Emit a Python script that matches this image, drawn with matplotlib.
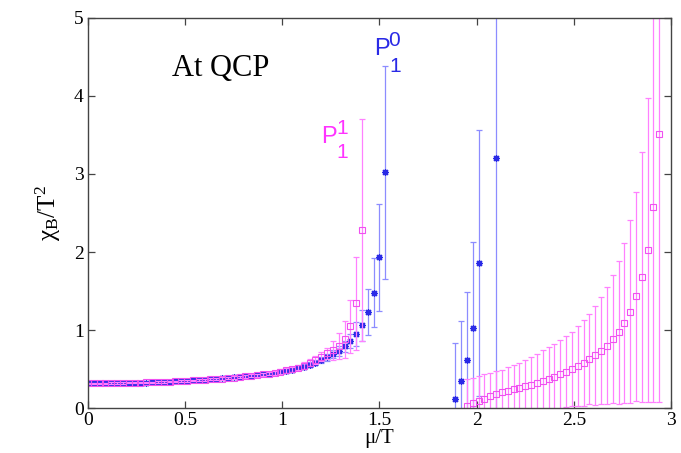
import matplotlib
matplotlib.use('Agg')
import matplotlib.pyplot as plt

# P1^0 (blue), low mu/T branch
mu_b0 = [0.00, 0.03, 0.06, 0.09, 0.12, 0.15, 0.18, 0.21, 0.24, 0.27, 0.30,
         0.33, 0.36, 0.39, 0.42, 0.45, 0.48, 0.51, 0.54, 0.57, 0.60,
         0.63, 0.66, 0.69, 0.72, 0.75, 0.78, 0.81, 0.84, 0.87, 0.90,
         0.93, 0.96, 0.99, 1.02, 1.05, 1.08, 1.11, 1.14, 1.17, 1.20,
         1.23, 1.26, 1.29, 1.32, 1.35, 1.38, 1.41, 1.44, 1.47, 1.50, 1.53]
chi_b0 = [0.317, 0.317, 0.318, 0.318, 0.319, 0.320, 0.321, 0.322, 0.323, 0.325, 0.327,
          0.331, 0.333, 0.336, 0.339, 0.342, 0.346, 0.350, 0.354, 0.358, 0.363,
          0.368, 0.373, 0.379, 0.385, 0.392, 0.399, 0.406, 0.413, 0.421, 0.430,
          0.440, 0.451, 0.463, 0.477, 0.493, 0.511, 0.532, 0.556, 0.583, 0.615,
          0.650, 0.690, 0.730, 0.790, 0.860, 0.950, 1.060, 1.230, 1.480, 1.930, 3.020]
err_b0 = [0.006] * 11 + \
         [0.007, 0.007, 0.007, 0.008, 0.008, 0.008, 0.009, 0.009, 0.010, 0.010,
          0.011, 0.011, 0.012, 0.012, 0.013, 0.014, 0.015, 0.016, 0.017, 0.018,
          0.019, 0.021, 0.022, 0.024, 0.026, 0.028, 0.030, 0.033, 0.036, 0.040,
          0.045, 0.052, 0.060, 0.075, 0.095, 0.15, 0.20, 0.30, 0.44, 0.68, 1.37]

# P1^0 (blue), high mu/T branch
mu_b1 = [1.89, 1.92, 1.95, 1.98, 2.01, 2.10]
chi_b1 = [0.115, 0.34, 0.61, 1.02, 1.86, 3.21]
err_b1 = [0.72, 0.78, 0.88, 1.11, 1.70, 3.6]

# P1^1 (magenta), low mu/T branch
mu_p0 = [0.00, 0.03, 0.06, 0.09, 0.12, 0.15, 0.18, 0.21, 0.24, 0.27, 0.30,
         0.33, 0.36, 0.39, 0.42, 0.45, 0.48, 0.51, 0.54, 0.57, 0.60,
         0.63, 0.66, 0.69, 0.72, 0.75, 0.78, 0.81, 0.84, 0.87, 0.90,
         0.93, 0.96, 0.99, 1.02, 1.05, 1.08, 1.11, 1.14, 1.17, 1.20,
         1.23, 1.26, 1.29, 1.32, 1.35, 1.38, 1.41]
chi_p0 = [0.318, 0.318, 0.319, 0.319, 0.320, 0.321, 0.322, 0.323, 0.324, 0.326, 0.328,
          0.330, 0.332, 0.335, 0.338, 0.341, 0.345, 0.349, 0.353, 0.357, 0.362,
          0.367, 0.372, 0.378, 0.384, 0.391, 0.398, 0.405, 0.413, 0.421, 0.430,
          0.441, 0.453, 0.466, 0.481, 0.498, 0.518, 0.545, 0.578, 0.615, 0.660,
          0.700, 0.740, 0.795, 0.880, 1.050, 1.340, 2.280]
err_p0 = [0.008] * 11 + \
         [0.009, 0.009, 0.009, 0.010, 0.010, 0.010, 0.011, 0.011, 0.012, 0.012,
          0.013, 0.014, 0.014, 0.015, 0.016, 0.017, 0.018, 0.019, 0.021, 0.022,
          0.024, 0.026, 0.028, 0.030, 0.033, 0.036, 0.040, 0.045, 0.050, 0.058,
          0.075, 0.12, 0.17, 0.24, 0.34, 0.59, 1.42]

# P1^1 (magenta), high mu/T branch
mu_p1 = [1.95, 1.98, 2.01, 2.04, 2.07, 2.10, 2.13, 2.16, 2.19, 2.22, 2.25, 2.28,
         2.31, 2.34, 2.37, 2.40, 2.43, 2.46, 2.49, 2.52, 2.55, 2.58, 2.61, 2.64,
         2.67, 2.70, 2.73, 2.76, 2.79, 2.82, 2.85, 2.88, 2.91, 2.94]
chi_p1 = [0.03, 0.06, 0.09, 0.12, 0.15, 0.18, 0.20, 0.22, 0.24, 0.26, 0.28, 0.30,
          0.325, 0.35, 0.376, 0.40, 0.43, 0.465, 0.50, 0.54, 0.58, 0.63, 0.675, 0.735,
          0.80, 0.88, 0.97, 1.09, 1.235, 1.43, 1.68, 2.03, 2.58, 3.51]
err_p1 = [0.34, 0.33, 0.32, 0.31, 0.30, 0.29, 0.29, 0.30, 0.31, 0.32, 0.335, 0.35,
          0.365, 0.39, 0.404, 0.42, 0.44, 0.455, 0.48, 0.51, 0.55, 0.58, 0.635, 0.685,
          0.75, 0.82, 0.92, 1.03, 1.175, 1.34, 1.60, 1.95, 2.50, 3.43]

blue_line = '#8c8cff'
blue_mark = '#2a2ae6'
pink_line = '#ff80ff'
pink_mark = '#f050f0'

plt.rcParams['font.family'] = ['Liberation Serif', 'DejaVu Serif']
plt.rcParams['mathtext.fontset'] = 'custom'
plt.rcParams['mathtext.rm'] = 'Liberation Serif'
plt.rcParams['mathtext.it'] = 'Liberation Serif:italic'

fig = plt.figure(figsize=(6.81, 4.53), dpi=100)
ax = fig.add_axes([0.1292, 0.0993, 0.8561, 0.8610])

blue_style = dict(fmt='none', ecolor=blue_line, elinewidth=0.9, capsize=2.5, capthick=0.9)
pink_style = dict(fmt='none', ecolor=pink_line, elinewidth=0.9, capsize=2.5, capthick=0.9)

for mu, chi, err in [(mu_b0, chi_b0, err_b0), (mu_b1, chi_b1, err_b1)]:
    ax.errorbar(mu, chi, yerr=err, **blue_style)
    ax.plot(mu, chi, ls='none', marker=(8, 2, 0), ms=5, mew=0.9, color=blue_mark)

for mu, chi, err in [(mu_p0, chi_p0, err_p0), (mu_p1, chi_p1, err_p1)]:
    ax.errorbar(mu, chi, yerr=err, **pink_style)
    ax.plot(mu, chi, ls='none', marker='s', ms=5, mew=0.8, mfc='none', mec=pink_mark)

ax.set_xlim(0, 3)
ax.set_ylim(0, 5)
ax.set_xticks([0, 0.5, 1, 1.5, 2, 2.5, 3])
ax.set_xticklabels(['0', '0.5', '1', '1.5', '2', '2.5', '3'])
ax.set_yticks([0, 1, 2, 3, 4, 5])
ax.tick_params(direction='in', length=5, width=0.9, color='#444444',
               top=True, right=True, labelsize=14, pad=3)
for sp in ax.spines.values():
    sp.set_color('#444444')
    sp.set_linewidth(1.0)

ax.set_xlabel('\u03bc/T', fontsize=15, labelpad=0)
ax.set_ylabel(r'$\mathrm{\chi}_{\mathrm{B}}/\mathrm{T}^2$', fontsize=18, labelpad=8)

ax.text(0.43, 4.25, 'At QCP', fontsize=22, color='black')

# channel labels: P with stacked superscript / subscript
sans = 'Liberation Sans'
ax.text(1.472, 4.53, 'P', fontsize=17, color=blue_mark, family=sans)
ax.text(1.547, 4.64, '0', fontsize=15, color=blue_mark, family=sans)
ax.text(1.550, 4.31, '1', fontsize=15, color=blue_mark, family=sans)
ax.text(1.198, 3.394, 'P', fontsize=17, color='#ff33ff', family=sans)
ax.text(1.276, 3.51, '1', fontsize=15, color='#ff33ff', family=sans)
ax.text(1.278, 3.21, '1', fontsize=15, color='#ff33ff', family=sans)

fig.savefig('out.png', dpi=100)
